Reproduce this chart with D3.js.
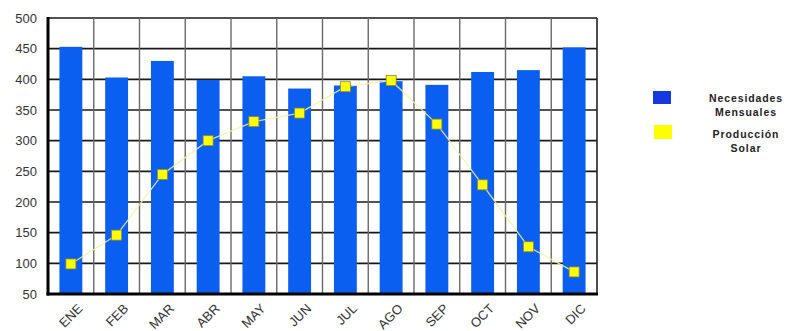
<!DOCTYPE html>
<html>
<head>
<meta charset="utf-8">
<script src="https://cdn.jsdelivr.net/npm/d3@7"></script>
<style>
  html, body { margin: 0; padding: 0; background: #fff; }
  svg { display: block; }
</style>
</head>
<body>
<svg id="chart" width="785" height="331"></svg>
<script>
// Monthly energy needs vs. solar production
const months = ["ENE", "FEB", "MAR", "ABR", "MAY", "JUN", "JUL", "AGO", "SEP", "OCT", "NOV", "DIC"];
const necesidades = [453, 403, 430, 399, 405, 385, 390, 397, 391, 412, 415, 452];
const produccion = [99, 146, 245, 300, 331, 345, 388, 398, 327, 228, 127, 86];
const yTicks = [50, 100, 150, 200, 250, 300, 350, 400, 450, 500];
const legendLabels = [["Necesidades", "Mensuales"], ["Producción", "Solar"]];

const svg = d3.select("#chart");
const plotLeft = 48, plotRight = 597, plotTop = 18, plotBottom = 294;

const x = d3.scaleBand().domain(months).range([plotLeft, plotRight]).paddingInner(0).paddingOuter(0);
const y = d3.scaleLinear().domain([50, 500]).range([plotBottom, plotTop]);

const barColor = "#0a5ef0";
const legendBlue = "#1538e0";
const yellow = "#ffff00";
const font = "Liberation Sans, Arial, sans-serif";

// horizontal grid (dark)
svg.append("g").selectAll("line").data(yTicks.filter(d => d > 50)).join("line")
  .attr("x1", plotLeft).attr("x2", plotRight)
  .attr("y1", d => y(d)).attr("y2", d => y(d))
  .attr("stroke", "#1a1a1a").attr("stroke-width", 1.6);

// vertical grid at month boundaries (grey)
svg.append("g").selectAll("line").data(months.slice(1)).join("line")
  .attr("x1", d => x(d)).attr("x2", d => x(d))
  .attr("y1", plotTop).attr("y2", plotBottom)
  .attr("stroke", "#6a6a6a").attr("stroke-width", 1.4);

// right border
svg.append("line").attr("x1", plotRight).attr("x2", plotRight).attr("y1", plotTop).attr("y2", plotBottom)
  .attr("stroke", "#222").attr("stroke-width", 1.6);

// bars
const bw = x.bandwidth() * 0.5;
svg.append("g").selectAll("rect").data(months).join("rect")
  .attr("x", d => x(d) + x.bandwidth() / 2 - bw / 2)
  .attr("width", bw)
  .attr("y", (d, i) => y(necesidades[i]))
  .attr("height", (d, i) => plotBottom - y(necesidades[i]))
  .attr("fill", barColor);

// axes lines
svg.append("line").attr("x1", plotLeft).attr("x2", plotLeft).attr("y1", plotTop - 1).attr("y2", plotBottom + 1.5)
  .attr("stroke", "#000").attr("stroke-width", 3);
svg.append("line").attr("x1", plotLeft - 1.5).attr("x2", plotRight + 1).attr("y1", plotBottom).attr("y2", plotBottom)
  .attr("stroke", "#000").attr("stroke-width", 3);

// solar production line + markers
const cx = d => x(d) + x.bandwidth() / 2;
const line = d3.line().x((d, i) => cx(months[i])).y(d => y(d));
svg.append("path").datum(produccion).attr("d", line)
  .attr("fill", "none").attr("stroke", "#f4f2a0").attr("stroke-width", 1.3).attr("opacity", 0.85);
svg.append("g").selectAll("rect").data(produccion).join("rect")
  .attr("x", (d, i) => cx(months[i]) - 5)
  .attr("y", d => y(d) - 5)
  .attr("width", 10).attr("height", 10)
  .attr("fill", yellow).attr("stroke", "#8a8a3a").attr("stroke-width", 0.8);

// y tick labels
svg.append("g").selectAll("text").data(yTicks).join("text")
  .attr("x", 37).attr("y", d => y(d)).attr("dy", "0.36em")
  .attr("text-anchor", "end")
  .attr("font-family", font)
  .attr("font-size", 13).attr("fill", "#333")
  .text(d => d);

// x tick labels (rotated)
svg.append("g").selectAll("text").data(months).join("text")
  .attr("transform", d => `translate(${cx(d) + 6},${303}) rotate(-45)`)
  .attr("text-anchor", "end").attr("dy", "0.7em")
  .attr("font-family", font)
  .attr("font-size", 13).attr("fill", "#333")
  .text(d => d);

// legend
const lg = svg.append("g");
lg.append("rect").attr("x", 653).attr("y", 91).attr("width", 18).attr("height", 13).attr("fill", legendBlue);
lg.append("rect").attr("x", 654).attr("y", 125).attr("width", 18).attr("height", 14).attr("fill", yellow);
const ly = [[98, 112], [134, 148]];
legendLabels.forEach((lines, k) => {
  lines.forEach((t, j) => {
    lg.append("text").attr("x", 746).attr("y", ly[k][j]).attr("dy", "0.35em")
      .attr("text-anchor", "middle")
      .attr("font-family", font)
      .attr("font-size", 10.5).attr("font-weight", "bold")
      .attr("letter-spacing", 0.9).attr("fill", "#222")
      .text(t);
  });
});
</script>
</body>
</html>
